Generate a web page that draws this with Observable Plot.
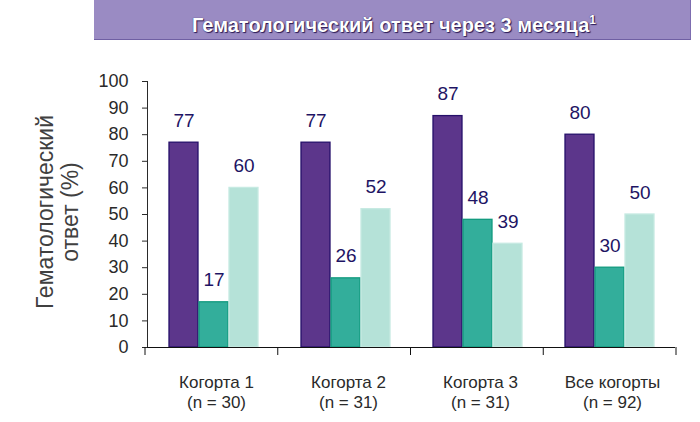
<!DOCTYPE html>
<html><head><meta charset="utf-8">
<script src="https://cdn.jsdelivr.net/npm/d3@7"></script>
<script src="https://cdn.jsdelivr.net/npm/@observablehq/plot@0.6"></script>
<style>
body{margin:0;background:#fff;font-family:Arial,"Liberation Sans",sans-serif;}
#wrap{position:relative;width:700px;height:422px;overflow:hidden;}
#banner{position:absolute;left:94px;top:0;width:592px;height:39px;background:#9a8bc3;border-bottom:1px solid #6f5fa3;border-right:1px solid #7d6db0;color:#fff;font-weight:bold;font-size:20px;line-height:40px;text-align:center;padding-left:4px;box-sizing:content-box;text-shadow:0 0 1px #2a1a55,1px 1px 1px #2a1a55;}
#banner sup{font-size:12px;vertical-align:8px;}
#chart{position:absolute;left:0;top:41px;}
</style>
</head><body>
<div id="wrap">
<div id="banner">Гематологический ответ через 3 месяца<sup>1</sup></div>
<div id="chart"></div>
</div>
<script>
const cohorts = ["Когорта 1", "Когорта 2", "Когорта 3", "Все когорты"];
const cohortN = [30, 31, 31, 92];
const seriesKeys = ["s1", "s2", "s3"];
const series1 = [77, 77, 87, 80];
const series2 = [17, 26, 48, 30];
const series3 = [60, 52, 39, 50];
const yTicks = [0, 10, 20, 30, 40, 50, 60, 70, 80, 90, 100];
const fills = ["#5c368b", "#33ae9b", "#b5e2d8"];
const strokes = ["#26106a", "#119a7e", "#c6eae2"];
const yLabelLines = ["Гематологический", "ответ (%)"];

const allSeries = [series1, series2, series3];
const table = [];
cohorts.forEach((c, i) => {
  seriesKeys.forEach((s, j) => {
    table.push({cohort: c, series: s, value: allSeries[j][i], fill: fills[j], stroke: strokes[j]});
  });
});

const plot = Plot.plot({
  width: 700,
  height: 381,
  marginTop: 40,
  marginBottom: 75,
  marginLeft: 145,
  marginRight: 24,
  fx: {domain: cohorts, padding: 0, label: null},
  x: {domain: seriesKeys, paddingInner: 0.04, paddingOuter: 0.7, axis: null},
  y: {domain: [0, 100], ticks: yTicks, tickSize: 5, tickPadding: 14, line: true, label: null},
  color: {type: "identity"},
  style: {fontFamily: "Arial, 'Liberation Sans', sans-serif", fontSize: "18px", color: "#2a2a2a", background: "transparent"},
  marks: [
    Plot.barY(table, {fx: "cohort", x: "series", y: "value", fill: "fill", stroke: "stroke", strokeWidth: 1.3}),
    Plot.ruleY([0], {stroke: "#111"}),
    Plot.text(table, {fx: "cohort", x: "series", y: "value", text: d => String(d.value), dy: -22, fill: "#1e1464", fontSize: 19}),
    Plot.axisFx({anchor: "bottom", tickSize: 0, tickPadding: 26, fontSize: 17, lineHeight: 1.2, label: null, dx: 3,
      tickFormat: c => c + "\n(n = " + cohortN[cohorts.indexOf(c)] + ")"})
  ]
});
document.getElementById("chart").appendChild(plot);

// group boundary ticks and y-axis title
const svg = d3.select(plot);
const fs = plot.scale("fx");
const r0 = fs.range[0], r1 = fs.range[1];
const step = (r1 - r0) / cohorts.length;
const y0 = plot.scale("y").apply(0);
d3.range(cohorts.length + 1).forEach(i => {
  const xb = r0 + i * step;
  svg.append("line").attr("x1", xb).attr("x2", xb).attr("y1", y0).attr("y2", y0 + 8)
    .attr("stroke", "#111").attr("stroke-width", 1);
});
const yMid = (plot.scale("y").apply(0) + plot.scale("y").apply(100)) / 2;
const lab = svg.append("text")
  .attr("transform", `translate(57,${yMid - 2}) rotate(-90)`)
  .attr("text-anchor", "middle")
  .attr("fill", "#404040")
  .attr("font-size", 23)
  .attr("font-family", "Arial, 'Liberation Sans', sans-serif");
yLabelLines.forEach((t, k) => {
  lab.append("tspan").attr("x", 0).attr("y", k === 0 ? -12 : 13).attr("dy", "0.35em").text(t);
});
</script>
</body></html>
